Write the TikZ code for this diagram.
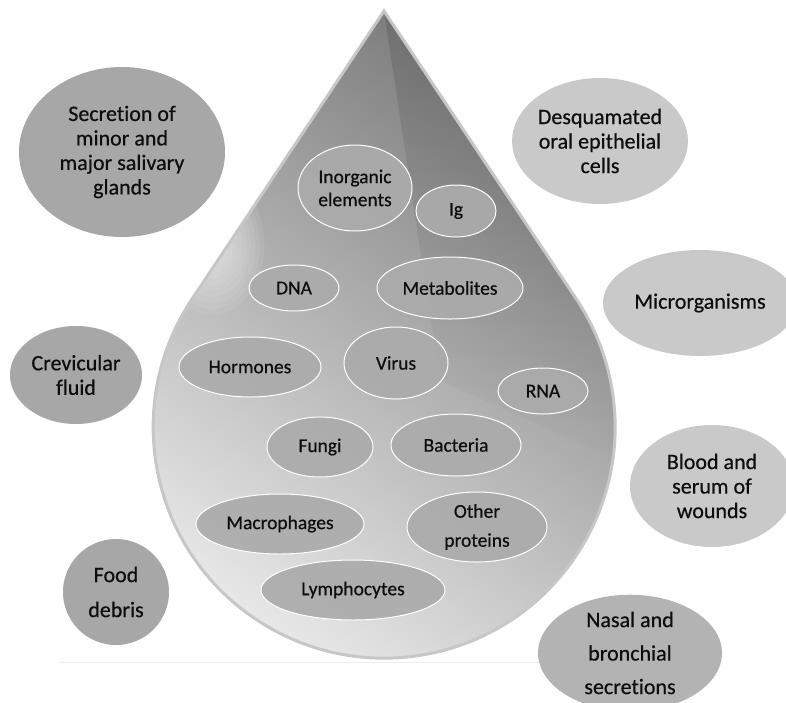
\documentclass[tikz,border=0pt]{standalone}
\usepackage{fontspec}
\setmainfont{Carlito}[Ligatures=NoCommon, FakeBold=0.5]
\usetikzlibrary{shapes.geometric,fadings}
\definecolor{outerdark}{HTML}{A7A7A7}
\definecolor{outerlight}{HTML}{C9C9C9}
\definecolor{outermid}{HTML}{B3B3B3}
\definecolor{innerfill}{HTML}{ABABAB}
\definecolor{txt}{HTML}{0D0D0D}
\tikzset{
  outerbub/.style={ellipse, inner sep=0pt, align=center, text=txt,
    font=\fontsize{22}{24.5}\selectfont},
  innerbub/.style={ellipse, inner sep=0pt, align=center, text=txt,
    draw=white, line width=1pt, fill=innerfill, fill opacity=0.92, text opacity=1,
    font=\fontsize{19.5}{29}\selectfont},
}
\begin{document}
\begin{tikzpicture}[x=1pt,y=-1pt]
\useasboundingbox (0,0) rectangle (786,702);
\clip (0,0) rectangle (786,702);
\fill[white] (0,0) rectangle (786,702);
% faint base line
\draw[black!7, line width=1pt] (60,662) -- (545,662);
% drop
\shade[top color=black!52, bottom color=black!8, shading angle=-35]
  (384,11) -- (192,299) arc[start angle=213.7, end angle=-33.7, radius=231] -- cycle;
\begin{scope}
  \clip (384,11) -- (192,299) arc[start angle=213.7, end angle=-33.7, radius=231] -- cycle;
  \foreach \r in {10,16,...,70} {
    \fill[white, opacity=0.07] (212,245) ellipse[x radius=0.75*\r, y radius=\r];
  }
  \fill[black, opacity=0.12, path fading=south]
    (384,11) -- (440,380) -- (640,470) -- (640,0) -- cycle;
\end{scope}
\draw[black!22, line width=3pt]
  (384,11) -- (192,299) arc[start angle=213.7, end angle=-33.7, radius=231] -- cycle;
% outer bubbles
\node[outerbub, fill=outerdark, minimum width=206, minimum height=170] (sec) at (122,152)
  {Secretion of\\minor and\\major salivary\\glands};
\node[outerbub, fill=outerlight, minimum width=168, minimum height=126] (desq) at (600,141)
  {Desquamated\\oral epithelial\\cells};
\node[outerbub, fill=outerlight, minimum width=194, minimum height=106] (micro) at (700,303)
  {Microrganisms};
\node[outerbub, fill=outerdark, minimum width=132, minimum height=98] (crev) at (76,375)
  {Crevicular\\fluid};
\node[outerbub, fill=outerlight, minimum width=164, minimum height=122] (blood) at (712,486)
  {Blood and\\serum of\\wounds};
\node[outerbub, fill=outerdark, minimum width=106, minimum height=106,
  font=\fontsize{22}{35}\selectfont] (food) at (116,592)
  {Food\\debris};
\node[outerbub, fill=outermid, minimum width=184, minimum height=112,
  font=\fontsize{22}{33.5}\selectfont] (nasal) at (630,653)
  {Nasal and\\bronchial\\secretions};
% inner bubbles
\node[innerbub, minimum width=114, minimum height=86, font=\fontsize{19.5}{23}\selectfont] (inorg) at (355,188) {Inorganic\\elements};
\node[innerbub, minimum width=80, minimum height=52] (ig) at (456,211) {Ig};
\node[innerbub, minimum width=90, minimum height=46] (dna) at (294,288) {DNA};
\node[innerbub, minimum width=146, minimum height=62] (meta) at (450,288) {Metabolites};
\node[innerbub, minimum width=142, minimum height=60] (horm) at (250,367) {Hormones};
\node[innerbub, minimum width=104, minimum height=72] (virus) at (396,363) {Virus};
\node[innerbub, minimum width=90, minimum height=46] (rna) at (543,391) {RNA};
\node[innerbub, minimum width=106, minimum height=60] (fungi) at (320,447) {Fungi};
\node[innerbub, minimum width=130, minimum height=62] (bact) at (456,445) {Bacteria};
\node[innerbub, minimum width=168, minimum height=60] (macro) at (280,524) {Macrophages};
\node[innerbub, minimum width=140, minimum height=70] (other) at (477,527) {Other\\proteins};
\node[innerbub, minimum width=184, minimum height=60] (lymph) at (353,590) {Lymphocytes};
\end{tikzpicture}
\end{document}
